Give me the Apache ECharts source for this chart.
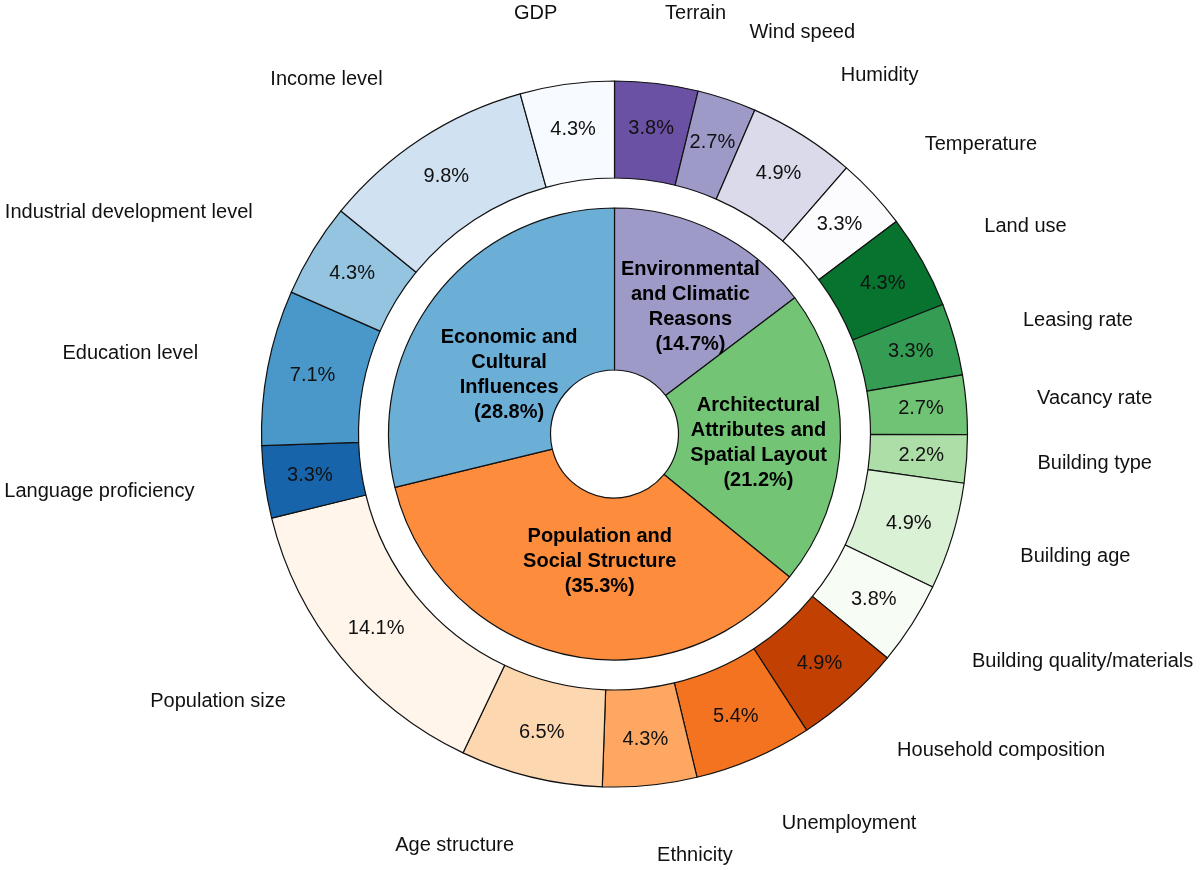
<!DOCTYPE html>
<html>
<head>
<meta charset="utf-8">
<script src="https://cdn.jsdelivr.net/npm/echarts@6/dist/echarts.min.js"></script>
<style>
html,body{margin:0;padding:0;background:#fff;}
#chart{width:1200px;height:870px;}
</style>
</head>
<body>
<div id="chart"></div>
<script>
// Inner ring: main categories (clockwise from top)
const innerNames = [
  'Environmental\nand Climatic\nReasons',
  'Architectural\nAttributes and\nSpatial Layout',
  'Population and\nSocial Structure',
  'Economic and\nCultural\nInfluences'
];
const innerValues = [14.7, 21.2, 35.3, 28.8];
const innerColors = ['#9e9ac8', '#74c476', '#fd8d3c', '#6baed6'];

// Outer ring: sub-factors (clockwise from top)
const outerNames = [
  'Terrain', 'Wind speed', 'Humidity', 'Temperature',
  'Land use', 'Leasing rate', 'Vacancy rate', 'Building type', 'Building age', 'Building quality/materials',
  'Household composition', 'Unemployment', 'Ethnicity', 'Age structure', 'Population size',
  'Language proficiency', 'Education level', 'Industrial development level', 'Income level', 'GDP'
];
const outerValues = [
  3.8, 2.7, 4.9, 3.3,
  4.3, 3.3, 2.7, 2.2, 4.9, 3.8,
  4.9, 5.4, 4.3, 6.5, 14.1,
  3.3, 7.1, 4.3, 9.8, 4.3
];
const outerColors = [
  '#6a51a3', '#9e9ac8', '#dadaeb', '#fcfbfd',
  '#07732f', '#349d53', '#70c274', '#aedea7', '#dbf1d5', '#f7fcf5',
  '#c24102', '#f47320', '#fda762', '#fdd7b0', '#fff5eb',
  '#1764ab', '#4a98c9', '#94c4df', '#d0e1f2', '#f7fbff'
];

// label nudges for the inner category labels (styling only)
const innerLabelOffsets = [[10, 5], [-4, 6], [18, -17], [11, 32]];

const CX = 614.5, CY = 434;
const FONT = '"Liberation Sans", Arial, sans-serif';

const chart = echarts.init(document.getElementById('chart'), null, {renderer: 'canvas'});

const option = {
  backgroundColor: '#ffffff',
  animation: false,
  series: [
    {
      type: 'pie',
      center: [CX, CY],
      radius: [64, 226],
      startAngle: 90,
      clockwise: true,
      avoidLabelOverlap: false,
      silent: true,
      itemStyle: {borderColor: '#111', borderWidth: 1.2},
      label: {
        show: true,
        position: 'inside',
        fontFamily: FONT,
        fontSize: 20,
        fontWeight: 'bold',
        color: '#000',
        lineHeight: 25,
        align: 'center',
        formatter: p => p.name + '\n(' + p.value.toFixed(1) + '%)'
      },
      labelLine: {show: false},
      data: innerNames.map((n, i) => ({
        name: n,
        value: innerValues[i],
        itemStyle: {color: innerColors[i]},
        label: {offset: innerLabelOffsets[i]}
      }))
    },
    {
      type: 'pie',
      center: [CX, CY],
      radius: [256, 353],
      startAngle: 90,
      clockwise: true,
      avoidLabelOverlap: false,
      silent: true,
      itemStyle: {borderColor: '#111', borderWidth: 1.2},
      label: {
        show: true,
        position: 'inside',
        fontFamily: FONT,
        fontSize: 20,
        color: '#111',
        formatter: p => p.value.toFixed(1) + '%'
      },
      labelLine: {show: false},
      data: outerNames.map((n, i) => ({
        name: n,
        value: outerValues[i],
        itemStyle: {color: outerColors[i]}
      }))
    },
    {
      type: 'pie',
      center: [CX, CY],
      radius: [256, 353],
      startAngle: 90,
      clockwise: true,
      avoidLabelOverlap: false,
      silent: true,
      z: 5,
      itemStyle: {color: 'rgba(0,0,0,0)', borderWidth: 0},
      label: {
        show: true,
        position: 'outside',
        fontFamily: FONT,
        fontSize: 20,
        color: '#111',
        distanceToLabelLine: 0,
        formatter: p => p.name
      },
      labelLine: {show: false, length: 71, length2: 0},
      data: outerNames.map((n, i) => ({name: n, value: outerValues[i]}))
    }
  ]
};
chart.setOption(option);
</script>
</body>
</html>
